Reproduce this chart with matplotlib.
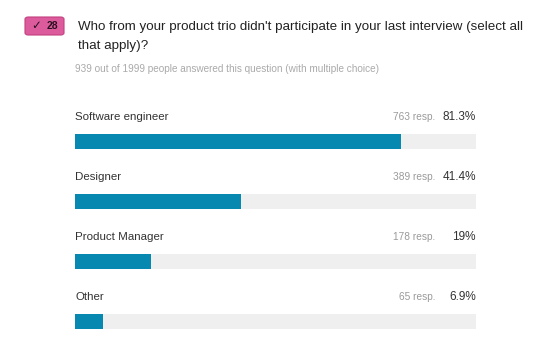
import matplotlib.pyplot as plt
from matplotlib.patches import FancyBboxPatch

plt.rcParams['font.family'] = ['Liberation Sans', 'DejaVu Sans']

categories = ['Software engineer', 'Designer', 'Product Manager', 'Other']
responses = [763, 389, 178, 65]
percents = [81.3, 41.4, 19, 6.9]
pct_labels = ['81.3%', '41.4%', '19%', '6.9%']

question_no = 28
title_l1 = "Who from your product trio didn't participate in your last interview (select all"
title_l2 = "that apply)?"
subtitle = "939 out of 1999 people answered this question (with multiple choice)"

bar_color = '#0788b0'
track_color = '#efefef'
dark = '#333333'
grey = '#9a9a9a'

fig = plt.figure(figsize=(5.5, 3.55), dpi=100)
fig.patch.set_facecolor('white')

# header
badge = FancyBboxPatch((25 / 550, 1 - 35 / 355), 39 / 550, 18 / 355,
                       boxstyle='round,pad=0,rounding_size=0.006',
                       transform=fig.transFigure, facecolor='#dc5b9c',
                       edgecolor='#c2407f', linewidth=0.8)
fig.patches.append(badge)
fig.text(31 / 550, 1 - 26 / 355, '\u2713', color='#2b1020', fontsize=8.5,
         va='center', ha='left', family=['DejaVu Sans'])
fig.text(47 / 550, 1 - 26 / 355, str(question_no), color='#2b1020', fontsize=7.5,
         va='center', ha='left', fontweight='bold')
fig.text(78 / 550, 1 - 27 / 355, title_l1, color='#222222', fontsize=9.65,
         va='center', ha='left')
fig.text(78 / 550, 1 - 46 / 355, title_l2, color='#222222', fontsize=9.65,
         va='center', ha='left')
fig.text(75 / 550, 1 - 69 / 355, subtitle, color='#aaaaaa', fontsize=7.2,
         va='center', ha='left')

# bars
ax = fig.add_axes([75 / 550, 4 / 355, 401 / 550, 240 / 355])
ypos = list(range(len(categories)))
ax.barh(ypos, [100] * len(categories), height=0.25, color=track_color)
ax.barh(ypos, percents, height=0.25, color=bar_color)
for y, cat, r, p in zip(ypos, categories, responses, pct_labels):
    ax.text(0, y - 0.4, cat, color=dark, fontsize=8.25, va='center', ha='left')
    ax.text(100, y - 0.4, p, color=dark, fontsize=8.5, va='center', ha='right')
    ax.text(89.8, y - 0.4, f'{r} resp.', color=grey, fontsize=7.3,
            va='center', ha='right')
ax.set_xlim(0, 100)
ax.set_ylim(3.5, -0.5)
ax.axis('off')

fig.savefig('out.png', dpi=100)
